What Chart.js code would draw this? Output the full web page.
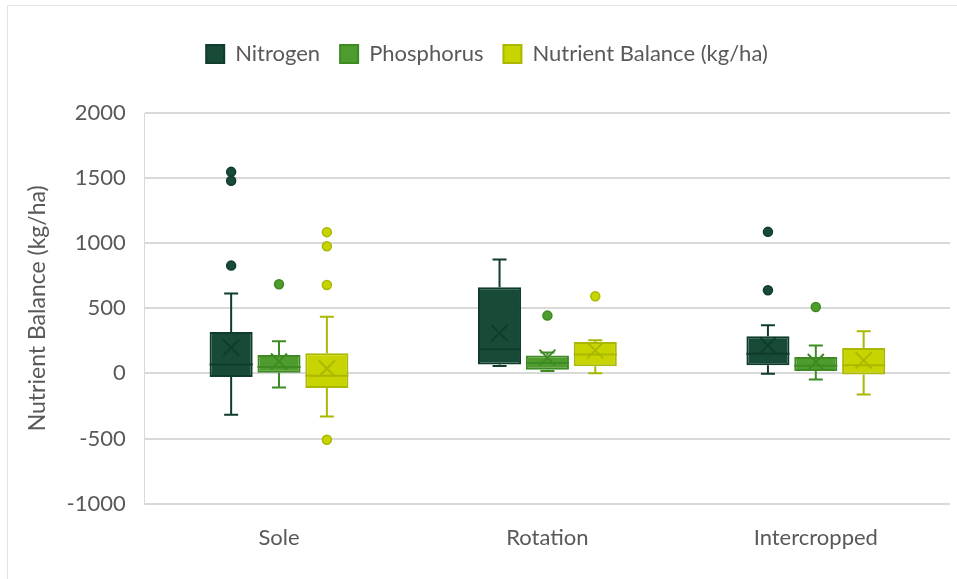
<!DOCTYPE html>
<html>
<head>
<meta charset="utf-8">
<script src="https://cdn.jsdelivr.net/npm/chart.js@4.4.1/dist/chart.umd.min.js"></script>
<style>
  html, body { margin: 0; padding: 0; background: #ffffff; }
  #wrap { width: 957px; height: 579px; position: relative; }
</style>
</head>
<body>
<div id="wrap"><canvas id="boxChart"></canvas></div>
<script>
// categories on the x axis
const categories = ['Sole', 'Rotation', 'Intercropped'];
const seriesNames = ['Nitrogen', 'Phosphorus', 'Nutrient Balance (kg/ha)'];
const yTicks = [-1000, -500, 0, 500, 1000, 1500, 2000];

// box stats per category: [min, q1, median, q3, max]
const nitrogenStats = [[-318, -28, 69, 318, 613], [56, 69, 185, 662, 874], [-3, 62, 151, 285, 369]];
const nitrogenMeans = [198, 310, 215];
const nitrogenOutliers = [[1548, 1479, 828], [], [1087, 638]];

const phosphorusStats = [[-108, 5, 49, 141, 246], [18, 28, 79, 138, 160], [-46, 18, 59, 126, 215]];
const phosphorusMeans = [92, 121, 87];
const phosphorusOutliers = [[685], [444], [510]];

const balanceStats = [[-331, -113, -18, 154, 436], [2, 54, 146, 241, 254], [-162, -8, 62, 195, 323]];
const balanceMeans = [38, 177, 100];
const balanceOutliers = [[1085, 977, 679, -510], [592], []];

const allStats = [nitrogenStats, phosphorusStats, balanceStats];
const allMeans = [nitrogenMeans, phosphorusMeans, balanceMeans];
const allOutliers = [nitrogenOutliers, phosphorusOutliers, balanceOutliers];

const fills = ['#174b37', '#4f9c2e', '#c8d400'];
const borders = ['#0f3c2b', '#3e8a23', '#a9b800'];

const FONT = 'Lato, "Open Sans", sans-serif';
const TXT = '#595959';

// draws whiskers, median, mean cross and outliers on top of the floating bars
const boxPlugin = {
  id: 'boxWhiskers',
  beforeDraw(chart) {
    const ctx = chart.ctx;
    ctx.save();
    ctx.strokeStyle = '#e3e3e3';
    ctx.lineWidth = 1;
    ctx.beginPath();
    ctx.moveTo(7.5, chart.height);
    ctx.lineTo(7.5, 5.5);
    ctx.lineTo(chart.width, 5.5);
    ctx.stroke();
    ctx.restore();
  },
  afterDatasetsDraw(chart) {
    const ctx = chart.ctx;
    const ys = chart.scales.y;
    const py = v => ys.getPixelForValue(v);
    chart.data.datasets.forEach((ds, di) => {
      const meta = chart.getDatasetMeta(di);
      meta.data.forEach((bar, i) => {
        const s = allStats[di][i];
        const x = bar.x;
        const half = bar.width / 2;
        ctx.save();
        ctx.strokeStyle = borders[di];
        ctx.lineWidth = 2;
        ctx.beginPath();
        // lower whisker + cap
        ctx.moveTo(x, py(s[1])); ctx.lineTo(x, py(s[0]));
        ctx.moveTo(x - 7, py(s[0])); ctx.lineTo(x + 7, py(s[0]));
        // upper whisker + cap
        ctx.moveTo(x, py(s[3])); ctx.lineTo(x, py(s[4]));
        ctx.moveTo(x - 7, py(s[4])); ctx.lineTo(x + 7, py(s[4]));
        // median
        ctx.moveTo(x - half, py(s[2])); ctx.lineTo(x + half, py(s[2]));
        ctx.stroke();
        // mean cross
        const my = py(allMeans[di][i]);
        ctx.beginPath();
        ctx.moveTo(x - 8, my - 8); ctx.lineTo(x + 8, my + 8);
        ctx.moveTo(x + 8, my - 8); ctx.lineTo(x - 8, my + 8);
        ctx.stroke();
        // outliers
        allOutliers[di][i].forEach(v => {
          ctx.beginPath();
          ctx.arc(x, py(v), 4.5, 0, Math.PI * 2);
          ctx.fillStyle = fills[di];
          ctx.fill();
          ctx.lineWidth = 1.5;
          ctx.stroke();
        });
        ctx.restore();
      });
    });
  }
};

// extra room under the legend
const legendGap = {
  id: 'legendGap',
  beforeInit(chart) {
    const fit = chart.legend.fit;
    chart.legend.fit = function () {
      fit.bind(chart.legend)();
      this.height += 38;
    };
  }
};

const datasets = seriesNames.map((name, di) => ({
  label: name,
  data: allStats[di].map(s => [s[1], s[3]]),
  backgroundColor: fills[di],
  borderColor: borders[di],
  borderWidth: 2,
  borderSkipped: false,
  categoryPercentage: 0.535,
  barPercentage: 0.9
}));

new Chart(document.getElementById('boxChart'), {
  type: 'bar',
  data: { labels: categories, datasets: datasets },
  plugins: [boxPlugin, legendGap],
  options: {
    responsive: true,
    maintainAspectRatio: false,
    animation: false,
    layout: { padding: { top: 23, left: 24, right: 7, bottom: 15 } },
    plugins: {
      tooltip: { enabled: false },
      legend: {
        position: 'top',
        labels: {
          boxWidth: 18,
          boxHeight: 18,
          padding: 20,
          color: TXT,
          font: { family: FONT, size: 22 }
        }
      }
    },
    scales: {
      x: {
        grid: { display: false },
        border: { display: false },
        ticks: { color: TXT, padding: 13, font: { family: FONT, size: 22 } }
      },
      y: {
        min: -1000,
        max: 2000,
        afterBuildTicks: axis => { axis.ticks = yTicks.map(v => ({ value: v })); },
        grid: { color: '#d9d9d9', lineWidth: 2, drawTicks: false },
        border: { display: true, color: '#d9d9d9', width: 1 },
        ticks: {
          color: TXT,
          padding: 19,
          font: { family: FONT, size: 22 },
          callback: v => String(v)
        },
        title: {
          display: true,
          text: 'Nutrient Balance (kg/ha)',
          color: TXT,
          padding: { top: 0, bottom: -4 },
          font: { family: FONT, size: 23 }
        }
      }
    }
  }
});
</script>
</body>
</html>
